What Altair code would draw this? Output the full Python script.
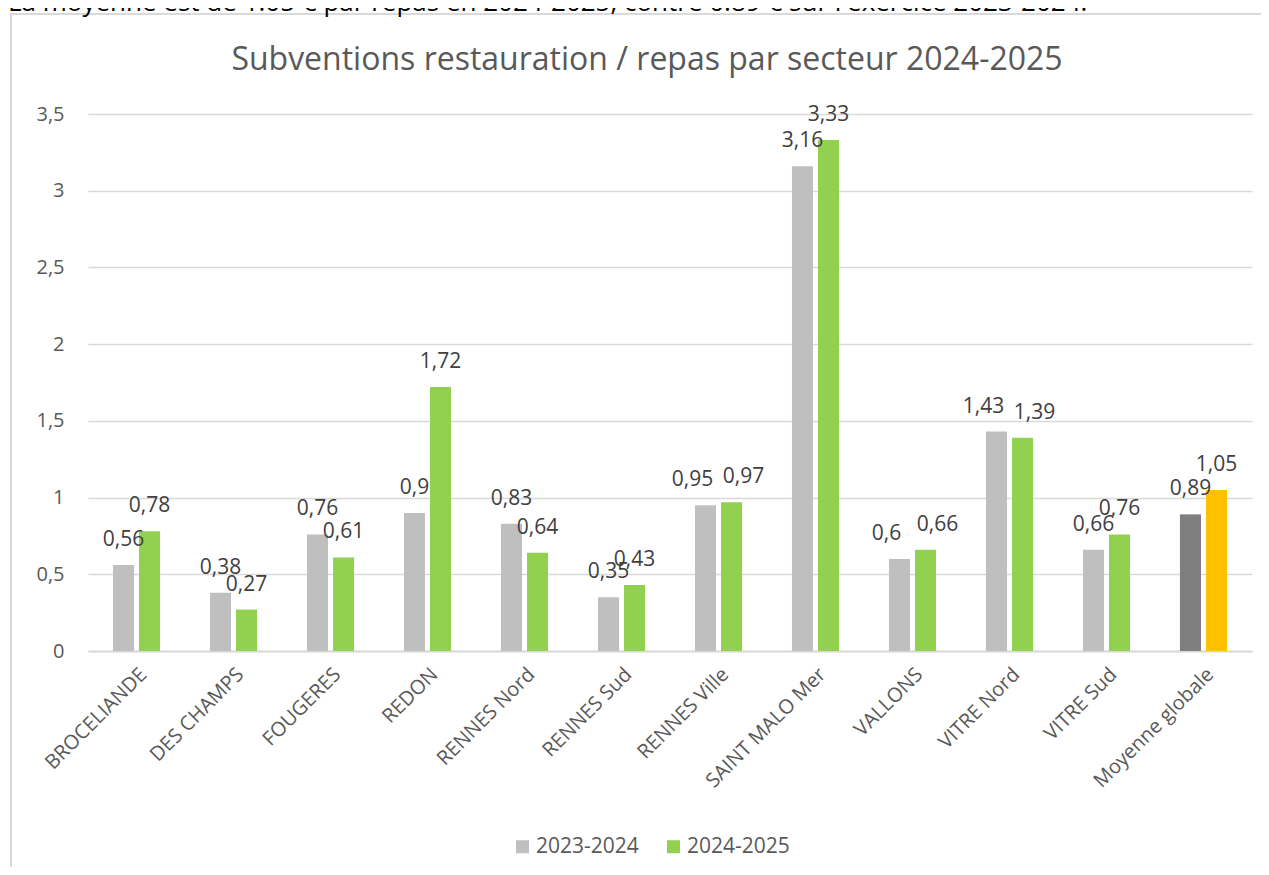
import altair as alt
import pandas as pd

secteurs = ["BROCELIANDE", "DES CHAMPS", "FOUGERES", "REDON", "RENNES Nord",
            "RENNES Sud", "RENNES Ville", "SAINT MALO Mer", "VALLONS",
            "VITRE Nord", "VITRE Sud", "Moyenne globale"]
v_2023_2024 = [0.56, 0.38, 0.76, 0.9, 0.83, 0.35, 0.95, 3.16, 0.6, 1.43, 0.66, 0.89]
v_2024_2025 = [0.78, 0.27, 0.61, 1.72, 0.64, 0.43, 0.97, 3.33, 0.66, 1.39, 0.76, 1.05]
series = ["2023-2024", "2024-2025"]
y_ticks = [0, 0.5, 1, 1.5, 2, 2.5, 3, 3.5]
titre = "Subventions restauration / repas par secteur 2024-2025"
texte_haut = "La moyenne est de 1.05 € par repas en 2024-2025, contre 0.89 € sur l'exercice 2023-2024."

rows = []
for s, a, b in zip(secteurs, v_2023_2024, v_2024_2025):
    rows.append({"secteur": s, "serie": series[0], "valeur": a})
    rows.append({"secteur": s, "serie": series[1], "valeur": b})
df = pd.DataFrame(rows)

FONT = "Open Sans"
GRAY_TXT = "#595959"
FIRST = "datum.secteur == 'BROCELIANDE' && datum.serie == '2023-2024'"

x_enc = alt.X("secteur:N", sort=secteurs,
              scale=alt.Scale(paddingInner=0.515, paddingOuter=0.2577),
              axis=alt.Axis(title=None, labelAngle=-45, labelAlign="right",
                            labelBaseline="top", labelFontSize=20,
                            labelColor=GRAY_TXT, labelFont=FONT, ticks=False,
                            domainColor="#d9d9d9", domainWidth=2,
                            labelPadding=13, grid=False))
y_enc = alt.Y("valeur:Q", scale=alt.Scale(domain=[0, 3.5], nice=False),
              axis=alt.Axis(title=None, values=y_ticks,
                            labelExpr="replace(toString(datum.value), '.', ',')",
                            labelFontSize=20, labelColor=GRAY_TXT, labelFont=FONT,
                            ticks=False, domain=False, gridColor="#d9d9d9",
                            gridWidth=1.5, labelPadding=24))
xoff = alt.XOffset("serie:N", sort=series,
                   scale=alt.Scale(paddingInner=0.192, paddingOuter=0))

base = alt.Chart(df)

frame = base.mark_rect(fill=None, stroke="#d9d9d9", strokeWidth=2).encode(
    x=alt.value(-77), x2=alt.value(1300), y=alt.value(-100), y2=alt.value(900)
).transform_filter(FIRST)

bars = base.mark_bar().encode(
    x=x_enc, y=y_enc, xOffset=xoff,
    color=alt.Color("serie:N", sort=series,
                    scale=alt.Scale(domain=series, range=["#bfbfbf", "#92d050"]),
                    legend=alt.Legend(title=None, orient="none", direction="horizontal",
                                      legendX=424, legendY=722, symbolType="square",
                                      symbolSize=169, symbolStrokeWidth=0,
                                      labelFontSize=21, labelFont=FONT,
                                      labelColor=GRAY_TXT, columnPadding=24,
                                      labelOffset=3)),
)

moy = base.mark_bar().encode(
    x=alt.X("secteur:N", sort=secteurs), y="valeur:Q", xOffset=xoff,
    fill=alt.Fill("serie:N", sort=series,
                  scale=alt.Scale(domain=series, range=["#7f7f7f", "#ffc000"]),
                  legend=None),
).transform_filter("datum.secteur == 'Moyenne globale'")

# labels: centred above each bar; when the two values of a sector are almost
# equal, the two labels are pushed apart so that they do not collide
lab_base = base.transform_joinaggregate(
    vmin="min(valeur)", vmax="max(valeur)", groupby=["secteur"]
).transform_calculate(
    lbl="replace(toString(datum.valeur), '.', ',')",
    proche="datum.vmax - datum.vmin < 0.07",
)


def lab_layer(filt, dx):
    return lab_base.transform_filter(filt).mark_text(
        font=FONT, fontSize=21, color="#404040", baseline="middle", dy=-25, dx=dx
    ).encode(
        x=alt.X("secteur:N", sort=secteurs), y="valeur:Q", xOffset=xoff,
        text="lbl:N",
    )


labels = [
    lab_layer("!datum.proche", 0),
    lab_layer("datum.proche && datum.serie == '2023-2024'", -13),
    lab_layer("datum.proche && datum.serie == '2024-2025'", 12),
]

title_txt = base.mark_text(font=FONT, fontSize=32, color=GRAY_TXT,
                           align="center", baseline="middle").encode(
    x=alt.value(559), y=alt.value(-54), text=alt.value(titre)
).transform_filter(FIRST)

top_txt = base.mark_text(font=FONT, fontSize=26, color="#000000",
                         align="left", baseline="alphabetic").encode(
    x=alt.value(-80), y=alt.value(-103), text=alt.value(texte_haut)
).transform_filter(FIRST)

chart = alt.layer(frame, bars, moy, *labels, title_txt, top_txt).resolve_scale(
    color="independent"
).properties(
    width=1164, height=537,
    autosize=alt.AutoSizeParams(type="none"),
    padding={"left": 80, "top": 106, "right": 9, "bottom": 216},
).configure(background="white").configure_view(stroke=None)

chart.save("out.html", embed_options={"renderer": "svg", "actions": False})
